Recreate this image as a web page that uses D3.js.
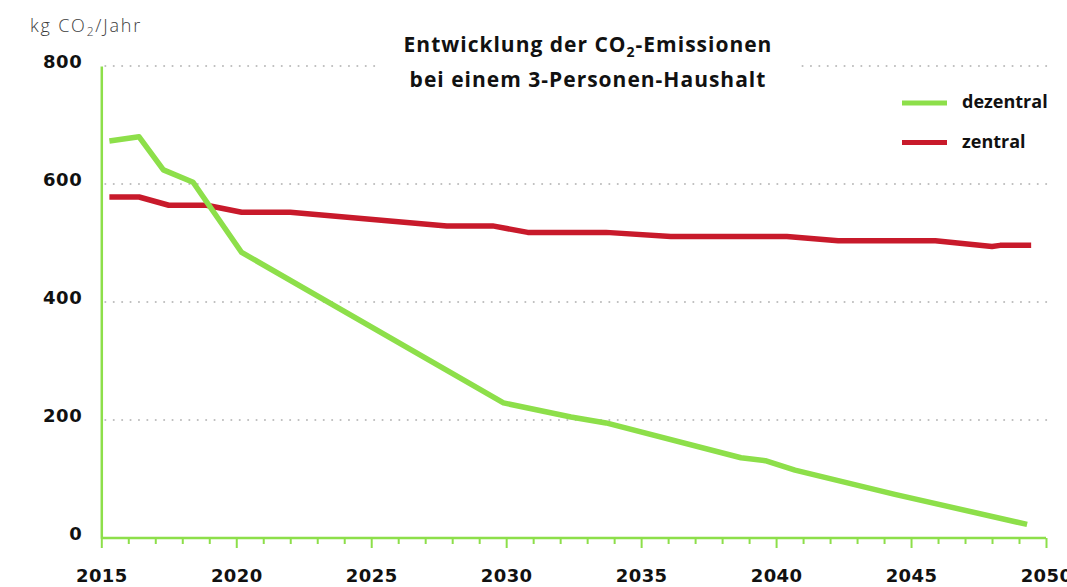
<!DOCTYPE html>
<html>
<head>
<meta charset="utf-8">
<script src="https://cdn.jsdelivr.net/npm/d3@7"></script>
<style>
  html, body { margin: 0; padding: 0; background: #fff; }
  svg { display: block; font-family: "Open Sans", Lato, sans-serif; }
</style>
</head>
<body>
<svg class="chart"></svg>
<script>
// data
var dezentralYears = [2015.3, 2016.4, 2017.3, 2018.4, 2020.2, 2029.9, 2032.4, 2033.7, 2038.7, 2039.6, 2040.7, 2044.4, 2049.3];
var dezentralValues = [673, 680, 624, 603, 484, 229, 205, 195, 136, 131, 115, 74, 23];

var zentralYears = [2015.3, 2016.4, 2017.5, 2018.9, 2020.2, 2022.0, 2027.8, 2029.5, 2030.8, 2033.7, 2036.1, 2040.4, 2042.3, 2045.9, 2048.0, 2048.3, 2049.45];
var zentralValues = [578, 578, 564, 564, 552, 552, 529, 529, 518, 518, 511, 511, 504, 504, 494, 496, 496];

var xTickLabels = [2015, 2020, 2025, 2030, 2035, 2040, 2045, 2050];
var yTickLabels = [0, 200, 400, 600, 800];
var seriesNames = ['dezentral', 'zentral'];

var width = 1067;
var height = 587;
var green = '#8ddf4a';
var red = '#c81a2b';
var tickFont = '"DejaVu Sans", sans-serif';

var svg = d3.select('.chart')
  .attr('width', width)
  .attr('height', height);

var x = d3.scaleLinear()
  .domain([2015, 2050])
  .range([101.3, 1046]);

var y = d3.scaleLinear()
  .domain([0, 800])
  .range([538, 66]);

// dotted grid
svg.append('g')
  .selectAll('line')
  .data(yTickLabels.slice(1))
  .enter()
  .append('line')
  .attr('x1', x(2015) + 4)
  .attr('x2', 1049)
  .attr('y1', function(d) { return y(d); })
  .attr('y2', function(d) { return y(d); })
  .attr('stroke', '#bdbdbd')
  .attr('stroke-width', 2)
  .attr('stroke-linecap', 'round')
  .attr('stroke-dasharray', '0.1,8.3');

// title box hides the grid behind the title
svg.append('rect')
  .attr('x', 376)
  .attr('y', 56)
  .attr('width', 421)
  .attr('height', 20)
  .attr('fill', '#fff');

// x axis, a tick every year
var allYears = d3.range(2015, 2051);
var xAxis = d3.axisBottom(x)
  .tickValues(allYears)
  .tickSize(6)
  .tickFormat(function(d) { return xTickLabels.indexOf(d) >= 0 ? d : ''; });

var gx = svg.append('g')
  .attr('transform', 'translate(0,' + y(0) + ')')
  .call(xAxis);

gx.select('.domain')
  .attr('stroke', green)
  .attr('stroke-width', 2.5)
  .attr('d', 'M' + x(2015) + ',0H' + x(2050));

gx.selectAll('.tick line')
  .attr('stroke', green)
  .attr('stroke-width', 2)
  .attr('y2', function(d) { return d % 5 === 0 ? 10 : 6; });

gx.selectAll('.tick text')
  .attr('y', 31)
  .attr('fill', '#111')
  .style('font-family', tickFont)
  .style('font-size', '18px')
  .style('font-weight', 700)
  .style('letter-spacing', '0.4px');

// y axis
var yAxis = d3.axisLeft(y)
  .tickValues(yTickLabels)
  .tickSize(0)
  .tickPadding(19);

var gy = svg.append('g')
  .attr('transform', 'translate(' + x(2015) + ',0)')
  .call(yAxis);

gy.select('.domain')
  .attr('stroke', green)
  .attr('stroke-width', 2.5);

gy.selectAll('.tick text')
  .attr('y', -4)
  .attr('fill', '#111')
  .style('font-family', tickFont)
  .style('font-size', '18px')
  .style('font-weight', 700)
  .style('letter-spacing', '0.6px');

// unit label
var unit = svg.append('text')
  .attr('x', 30)
  .attr('y', 32)
  .attr('fill', '#3c3c3c')
  .style('font-size', '18px')
  .style('font-weight', 300)
  .style('letter-spacing', '1.8px');
unit.append('tspan').text('kg CO');
unit.append('tspan').attr('dy', 4).style('font-size', '12px').text('2');
unit.append('tspan').attr('dy', -4).text('/Jahr');

// title
var title = svg.append('text')
  .attr('text-anchor', 'middle')
  .attr('fill', '#111')
  .style('font-size', '21px')
  .style('font-weight', 700)
  .style('letter-spacing', '1px');
var t1 = title.append('tspan').attr('x', 588).attr('y', 52);
t1.append('tspan').text('Entwicklung der CO');
t1.append('tspan').attr('dy', 5).style('font-size', '14px').text('2');
t1.append('tspan').attr('dy', -5).text('-Emissionen');
title.append('tspan').attr('x', 588).attr('y', 87).text('bei einem 3-Personen-Haushalt');

// lines
var line = d3.line()
  .x(function(d) { return x(d[0]); })
  .y(function(d) { return y(d[1]); });

var zentral = d3.zip(zentralYears, zentralValues);
var dezentral = d3.zip(dezentralYears, dezentralValues);

svg.append('path')
  .attr('d', line(zentral))
  .attr('fill', 'none')
  .attr('stroke', red)
  .attr('stroke-width', 5.5)
  .attr('stroke-linejoin', 'round');

svg.append('path')
  .attr('d', line(dezentral))
  .attr('fill', 'none')
  .attr('stroke', green)
  .attr('stroke-width', 5.5)
  .attr('stroke-linejoin', 'round');

// legend
var legend = svg.selectAll('.legend')
  .data(seriesNames)
  .enter()
  .append('g')
  .attr('class', 'legend')
  .attr('transform', function(d, i) { return 'translate(902,' + (103 + i * 39.5) + ')'; });

legend.append('line')
  .attr('x1', 0)
  .attr('x2', 45)
  .attr('stroke', function(d, i) { return i === 0 ? green : red; })
  .attr('stroke-width', 5);

legend.append('text')
  .attr('x', 60)
  .attr('y', 5)
  .attr('fill', '#111')
  .style('font-size', '18px')
  .style('font-weight', 700)
  .text(function(d) { return d; });
</script>
</body>
</html>
